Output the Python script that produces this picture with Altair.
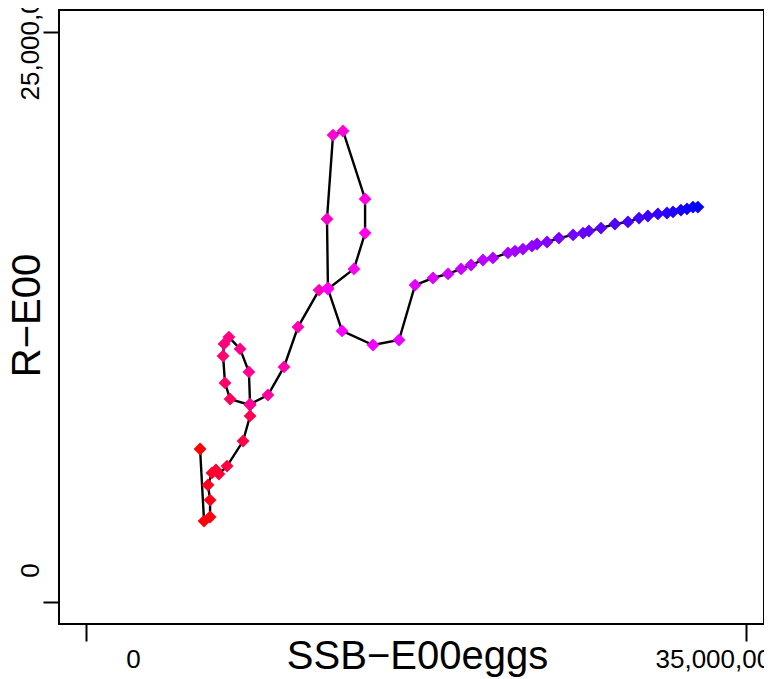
import altair as alt
import pandas as pd

# SSB (eggs, millions) and recruitment (millions), in time order
ssb_m = [6.05, 6.26, 6.58, 6.58, 6.47, 6.68, 6.89, 7.05, 7.48, 8.33,
         8.70, 8.70, 7.64, 7.37, 7.27, 7.32, 7.58, 8.17, 8.64, 8.70,
         9.65, 10.50, 11.24, 12.36, 12.83, 12.78, 13.10, 13.63, 14.80, 14.80,
         14.21, 12.83, 13.58, 15.22, 16.60, 17.45, 18.40, 19.20, 19.89, 20.42,
         21.05, 21.58, 22.38, 22.75, 23.17, 23.65, 23.92, 24.45, 25.08, 25.83,
         26.36, 26.67, 27.31, 28.05, 28.74, 29.33, 29.80, 30.33, 30.81, 31.13,
         31.55, 31.87, 32.19, 32.45]
rec_m = [6.71, 3.55, 3.73, 4.47, 5.13, 5.66, 5.79, 5.61, 5.96, 7.06,
         8.16, 8.64, 8.90, 9.61, 10.79, 11.32, 11.62, 11.10, 10.09, 8.68,
         9.08, 10.31, 12.06, 13.68, 13.77, 16.80, 20.48, 20.66, 17.68, 16.18,
         14.61, 13.73, 11.89, 11.27, 11.49, 13.90, 14.21, 14.39, 14.61, 14.78,
         15.00, 15.09, 15.31, 15.39, 15.48, 15.61, 15.70, 15.79, 15.96, 16.10,
         16.18, 16.27, 16.40, 16.58, 16.67, 16.84, 16.93, 17.02, 17.06, 17.11,
         17.19, 17.24, 17.32, 17.32]

x_ticks = [0, 35000000]
y_ticks = [0, 25000000]

n = len(ssb_m)
df = pd.DataFrame({
    "step": list(range(1, n + 1)),
    "ssb": [v * 1e6 for v in ssb_m],
    "rec": [v * 1e6 for v in rec_m],
})

FONT = "Liberation Sans"

xscale = alt.Scale(domain=[-1432000, 35955000], nice=False, zero=False)
yscale = alt.Scale(domain=[-965000, 25965000], nice=False, zero=False)

xaxis = alt.Axis(
    values=x_ticks, format=",d", domain=False, grid=False,
    tickSize=17, tickWidth=2, tickColor="black",
    labelFontSize=26, labelFont=FONT, labelColor="black",
    labelBaseline="alphabetic", labelPadding=26,
    labelAlign=alt.condition("datum.value == 0", alt.value("center"), alt.value("left")),
    labelOffset=alt.condition("datum.value == 0", alt.value(47), alt.value(-91)),
    labelFlush=False, labelOverlap=False, labelBound=False,
    title="SSB\u2212E00eggs", titleFont=FONT, titleFontSize=40,
    titleFontWeight="normal", titleColor="black",
    titleX=358, titleY=44, titleBaseline="alphabetic", titleAlign="center",
)
yaxis = alt.Axis(
    values=y_ticks, format=",d", domain=False, grid=False,
    tickSize=16, tickWidth=2, tickColor="black",
    labelFontSize=26, labelFont=FONT, labelColor="black",
    labelAngle=270, labelBaseline="alphabetic", labelPadding=5,
    labelAlign=alt.condition("datum.value == 0", alt.value("center"), alt.value("left")),
    labelOffset=alt.condition("datum.value == 0", alt.value(-32), alt.value(68)),
    labelFlush=False, labelOverlap=False, labelBound=False,
    title="R\u2212E00", titleFont=FONT, titleFontSize=40,
    titleFontWeight="normal", titleColor="black", titleAngle=270,
    titleX=-20, titleY=305, titleBaseline="alphabetic", titleAlign="center",
)

base = alt.Chart(df)

line = base.mark_line(color="black", strokeWidth=2.4).encode(
    x=alt.X("ssb:Q", scale=xscale, axis=xaxis),
    y=alt.Y("rec:Q", scale=yscale, axis=yaxis),
    order="step:Q",
)

points = base.mark_point(shape="diamond", filled=True, size=165, opacity=1).encode(
    x=alt.X("ssb:Q", scale=xscale),
    y=alt.Y("rec:Q", scale=yscale),
    color=alt.Color(
        "step:Q",
        scale=alt.Scale(domain=[1, (n + 1) / 2, n],
                        range=["#FF0000", "#FF00FF", "#0000FF"],
                        interpolate="rgb"),
        legend=None,
    ),
)

chart = alt.layer(line, points).properties(
    width=705, height=614,
    autosize=alt.AutoSizeParams(type="none"),
    padding={"left": 51, "top": 2, "right": 0, "bottom": 55},
    view=alt.ViewBackground(stroke="black", strokeWidth=2, fill="white"),
).configure_view(
    stroke="black", strokeWidth=2, fill="white"
).configure(background="white")

chart.save("out.html", embed_options={"renderer": "svg", "actions": False})
